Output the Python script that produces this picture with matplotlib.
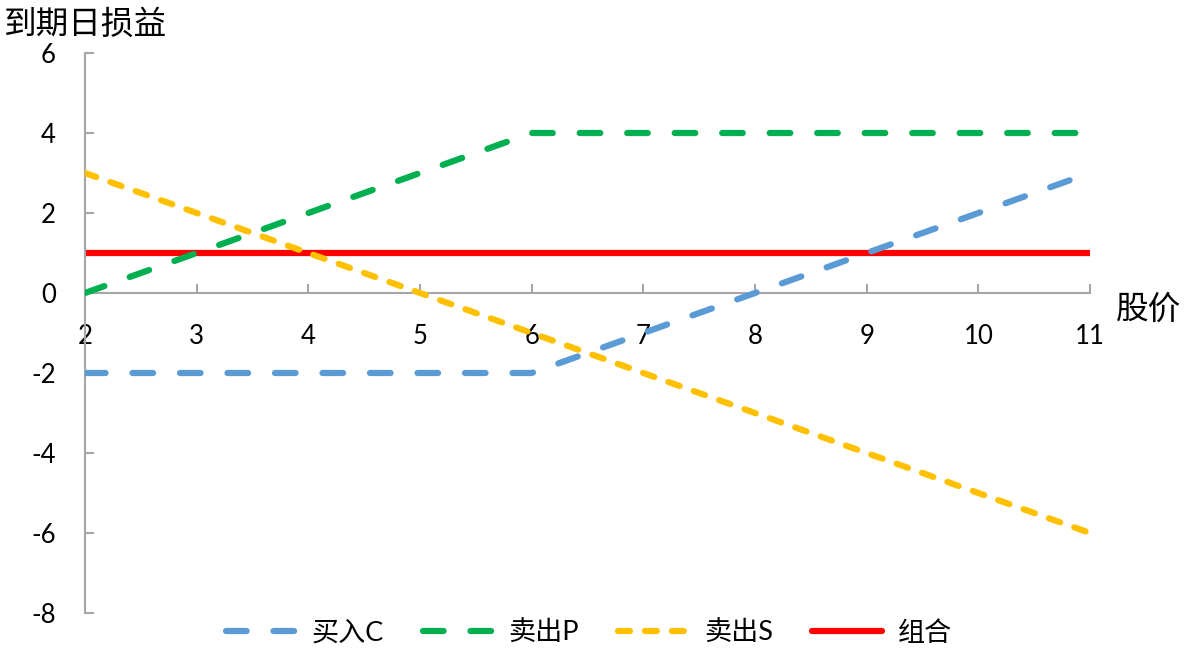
import matplotlib
matplotlib.use("Agg")
import matplotlib.pyplot as plt

plt.rcParams['font.family'] = ['Lato', 'Noto Sans CJK SC', 'DejaVu Sans']
plt.rcParams['lines.scale_dashes'] = False
plt.rcParams['axes.unicode_minus'] = False

# Data
price = [2, 3, 4, 5, 6, 7, 8, 9, 10, 11]
buy_call = [-2, -2, -2, -2, -2, -1, 0, 1, 2, 3]
sell_put = [0, 1, 2, 3, 4, 4, 4, 4, 4, 4]
sell_stock = [3, 2, 1, 0, -1, -2, -3, -4, -5, -6]
combo = [1, 1, 1, 1, 1, 1, 1, 1, 1, 1]
series_names = ['买入C', '卖出P', '卖出S', '组合']
y_ticks = [-8, -6, -4, -2, 0, 2, 4, 6]
x_ticks = [2, 3, 4, 5, 6, 7, 8, 9, 10, 11]

fig = plt.figure(figsize=(11.88, 6.6), dpi=100)
ax = fig.add_axes([85/1188, 1-613/660, (1090-85)/1188, (613-53)/660])

lw = 4.5
ax.plot(price, combo, color='#FF0000', lw=lw, solid_capstyle='round',
        label=series_names[3], zorder=2)
ax.plot(price, buy_call, color='#5B9BD5', lw=lw, linestyle=(0, (14.8, 19.4)),
        dash_capstyle='round', label=series_names[0], zorder=3)
ax.plot(price, sell_put, color='#00B050', lw=lw, linestyle=(0, (14.8, 19.4)),
        dash_capstyle='round', label=series_names[1], zorder=3)
ax.plot(price, sell_stock, color='#FFC000', lw=lw, linestyle=(0, (8.6, 10.8)),
        dash_capstyle='round', label=series_names[2], zorder=3)

ax.set_xlim(2, 11)
ax.set_ylim(-8, 6)
ax.set_xticks(x_ticks)
ax.set_yticks(y_ticks)
ax.set_yticklabels([str(v) for v in y_ticks])

spine_color = '#A6A6A6'
for s in ['top', 'right']:
    ax.spines[s].set_visible(False)
ax.spines['bottom'].set_position(('data', 0))
for s in ['left', 'bottom']:
    ax.spines[s].set_color(spine_color)
    ax.spines[s].set_linewidth(1.5)
    ax.spines[s].set_capstyle('projecting')

ax.tick_params(axis='both', direction='in', length=6.5, width=1.5, color=spine_color,
               labelsize=18.5, labelcolor='black')
ax.tick_params(axis='x', pad=22.5)
ax.tick_params(axis='y', pad=21)
ax.patch.set_alpha(0)

fig.text(4/1188, 1-25/660, '到期日损益', fontsize=23.5, ha='left', va='center',
         family=['Noto Sans CJK SC'])
fig.text(1116/1188, 1-310/660, '股价', fontsize=23.5, ha='left', va='center',
         family=['Noto Sans CJK SC'])

handles, labels = ax.get_legend_handles_labels()
order = [1, 2, 3, 0]
leg = fig.legend([handles[i] for i in order], [labels[i] for i in order],
                 loc='center', bbox_to_anchor=(589/1188, 1-633/660), ncol=4,
                 frameon=False, handlelength=2.6,
                 handletextpad=0.55, columnspacing=1.45, borderpad=0,
                 prop={'size': 19.5, 'family': ['Lato', 'Noto Sans CJK SC']})

fig.savefig('out.png', dpi=100)
